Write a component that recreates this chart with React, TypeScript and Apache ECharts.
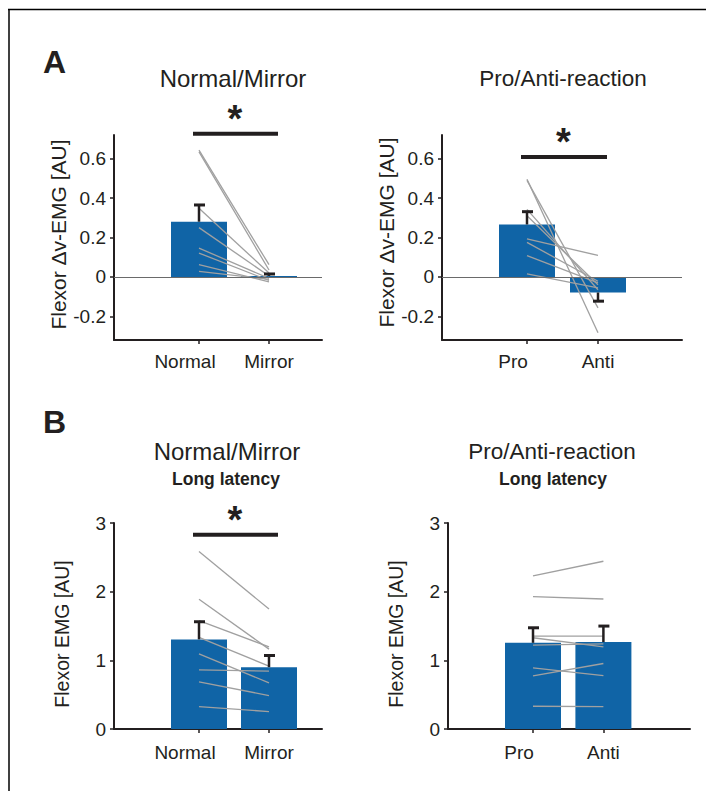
import React, { useEffect, useRef } from 'react';
import * as echarts from 'echarts';

const FONT = '"Liberation Sans", Arial, Helvetica, sans-serif';
const INK = '#231f20';
const BAR = '#1064a6';
const GREY = '#a0a0a0';

const catsNM = ['Normal', 'Mirror'];
const catsPA = ['Pro', 'Anti'];

// Panel A – Flexor Δv-EMG
const aNMMean = [0.28, 0.005];
const aNMErr = [0.085, 0.01];
const aNormal = [0.643, 0.634, 0.348, 0.25, 0.146, 0.121, 0.062, 0.028];
const aMirror = [0.062, 0.035, 0.02, 0.005, -0.007, -0.018, -0.025, -0.012];

const aPAMean = [0.266, -0.079];
const aPAErr = [0.065, 0.044];
const aPro = [0.495, 0.49, 0.343, 0.31, 0.193, 0.175, 0.108, 0.015];
const aAnti = [-0.283, -0.157, -0.065, -0.04, 0.109, -0.022, -0.03, -0.056];

// Panel B – Flexor EMG, long latency
const bNMMean = [1.305, 0.9];
const bNMErr = [0.257, 0.17];
const bNormal = [2.584, 1.889, 1.577, 1.334, 1.095, 0.861, 0.686, 0.327];
const bMirror = [1.747, 1.163, 1.197, 0.915, 0.672, 0.842, 0.487, 0.254];

const bPAMean = [1.255, 1.266];
const bPAErr = [0.219, 0.233];
const bPro = [2.229, 1.927, 1.353, 1.329, 1.222, 0.891, 0.774, 0.331];
const bAnti = [2.443, 1.893, 1.353, 1.197, 1.24, 0.778, 0.954, 0.326];

const aTicks = [-0.2, 0, 0.2, 0.4, 0.6];
const bTicks = [0, 1, 2, 3];
const aRange = [-0.32, 0.72];
const bRange = [0, 3];

type Panel = {
  cats: string[];
  mean: number[];
  err: number[];
  first: number[];
  second: number[];
  ticks: number[];
  range: number[];
  name: string;
  namePad: number[];
  nameSize: number;
  sig: number | null;
  zeroLine: boolean;
  rect: { left: number; top: number; width: number; height: number };
  step: number;
  labelMargin: number;
};

const panels: Panel[] = [
  { cats: catsNM, mean: aNMMean, err: aNMErr, first: aNormal, second: aMirror, ticks: aTicks, range: aRange,
    name: 'Flexor Δv-EMG [AU]', namePad: [0, 0, 0, 6], nameSize: 21, sig: 0.726, zeroLine: true,
    rect: { left: 114, top: 135, width: 208, height: 205 }, step: 70, labelMargin: 12 },
  { cats: catsPA, mean: aPAMean, err: aPAErr, first: aPro, second: aAnti, ticks: aTicks, range: aRange,
    name: 'Flexor Δv-EMG [AU]', namePad: [0, 0, 0, 10], nameSize: 21, sig: 0.609, zeroLine: true,
    rect: { left: 442, top: 135, width: 240, height: 205 }, step: 71, labelMargin: 12 },
  { cats: catsNM, mean: bNMMean, err: bNMErr, first: bNormal, second: bMirror, ticks: bTicks, range: bRange,
    name: 'Flexor EMG [AU]', namePad: [0, 16, 0, 0], nameSize: 19.5, sig: 2.83, zeroLine: false,
    rect: { left: 114, top: 523, width: 208, height: 206 }, step: 70, labelMargin: 14 },
  { cats: catsPA, mean: bPAMean, err: bPAErr, first: bPro, second: bAnti, ticks: bTicks, range: bRange,
    name: 'Flexor EMG [AU]', namePad: [0, 16, 0, 0], nameSize: 19.5, sig: null, zeroLine: false,
    rect: { left: 448, top: 523, width: 242, height: 206 }, step: 70.4, labelMargin: 14 },
];

const fmtTick = (v: number) => (Math.abs(v) < 1e-9 ? '0' : Number.isInteger(v) ? String(v) : v.toFixed(1));

export default function App() {
  const ref = useRef<HTMLDivElement>(null);

  useEffect(() => {
    if (!ref.current) return;
    const chart = echarts.init(ref.current, null, { renderer: 'svg' });

    const grid: any[] = [];
    const xAxis: any[] = [];
    const yAxis: any[] = [];
    const series: any[] = [];

    panels.forEach((p, i) => {
      grid.push({ ...p.rect, containLabel: false });
      const xMin = 1 - 85 / p.step;
      const xMax = xMin + p.rect.width / p.step;
      xAxis.push({
        gridIndex: i, type: 'value', min: xMin, max: xMax,
        axisLine: { show: true, onZero: false, lineStyle: { color: INK, width: 2 } },
        axisTick: { show: true, customValues: [1, 2], length: 4, lineStyle: { color: INK, width: 1.5 } },
        axisLabel: {
          customValues: [1, 2],
          formatter: (v: number) => {
            const j = Math.round(v) - 1;
            const t = p.cats[j] ?? '';
            return j === 0 ? `{first|${t}}` : `{rest|${t}}`;
          },
          rich: {
            first: { padding: [0, 28, 0, 0], fontSize: 19, fontFamily: FONT, color: INK },
            rest: { fontSize: 19, fontFamily: FONT, color: INK },
          },
          margin: p.labelMargin, color: INK, fontSize: 19, fontFamily: FONT,
        },
        splitLine: { show: false },
      });
      yAxis.push({
        gridIndex: i, type: 'value', min: p.range[0], max: p.range[1],
        axisLine: { show: true, onZero: false, lineStyle: { color: INK, width: 2 } },
        axisTick: { show: true, customValues: p.ticks, length: 4, lineStyle: { color: INK, width: 1.5 } },
        axisLabel: { customValues: p.ticks, formatter: fmtTick, margin: 8, color: INK, fontSize: 19, fontFamily: FONT },
        splitLine: { show: false },
        name: p.name, nameLocation: 'middle', nameGap: 42,
        nameTextStyle: { color: INK, fontSize: p.nameSize, fontFamily: FONT, padding: p.namePad },
      });

      series.push({
        type: 'bar', xAxisIndex: i, yAxisIndex: i, barWidth: 56, silent: true,
        itemStyle: { color: BAR },
        data: p.mean.map((m, j) => [j + 1, m]),
        markLine: p.zeroLine
          ? { silent: true, symbol: 'none', label: { show: false },
              lineStyle: { color: '#6a6a6a', width: 1, type: 'solid' }, data: [{ yAxis: 0 }] }
          : undefined,
        z: 2,
      });

      p.first.forEach((v, k) => {
        series.push({
          type: 'line', xAxisIndex: i, yAxisIndex: i, symbol: 'none', silent: true,
          lineStyle: { color: GREY, width: 1.3 },
          data: [[1, v], [2, p.second[k]]], z: 3,
        });
      });

      series.push({
        type: 'custom', xAxisIndex: i, yAxisIndex: i, silent: true, z: 4,
        data: p.mean.map((m, j) => [j + 1, m, p.err[j]]),
        encode: { x: 0, y: 1 },
        renderItem: (params: any, api: any) => {
          const x = api.value(0), m = api.value(1), e = api.value(2);
          const s = m >= 0 ? 1 : -1;
          const p0 = api.coord([x, m]);
          const p1 = api.coord([x, m + s * e]);
          return {
            type: 'group',
            children: [
              { type: 'line', shape: { x1: p0[0], y1: p0[1], x2: p1[0], y2: p1[1] }, style: { stroke: INK, lineWidth: 2.5 } },
              { type: 'line', shape: { x1: p1[0] - 5, y1: p1[1], x2: p1[0] + 6, y2: p1[1] }, style: { stroke: INK, lineWidth: 3 } },
            ],
          };
        },
      });

      if (p.sig !== null) {
        series.push({
          type: 'custom', xAxisIndex: i, yAxisIndex: i, silent: true, z: 5, clip: false,
          data: [[1, 2, p.sig]],
          encode: { x: [0, 1], y: 2 },
          renderItem: (params: any, api: any) => {
            const a = api.coord([api.value(0), api.value(2)]);
            const b = api.coord([api.value(1), api.value(2)]);
            const cx = (a[0] + b[0]) / 2 + 1;
            return {
              type: 'group',
              children: [
                { type: 'line', shape: { x1: a[0] - 6, y1: a[1], x2: b[0] + 9, y2: b[1] }, style: { stroke: INK, lineWidth: 4 } },
                { type: 'text', x: cx, y: a[1] - 15,
                  style: { text: '*', fill: INK, font: `bold 38px ${FONT}`, align: 'center', verticalAlign: 'middle' } },
              ],
            };
          },
        });
      }
    });

    const txt = (x: number, y: number, text: string, font: string, align = 'center') => ({
      type: 'text', x, y, silent: true,
      style: { text, fill: INK, font, textAlign: align, textVerticalAlign: 'middle' },
    });

    const graphic: any[] = [
      { type: 'line', shape: { x1: 8, y1: 9.5, x2: 706, y2: 9.5 }, style: { stroke: '#000', lineWidth: 1.5 } },
      { type: 'line', shape: { x1: 9, y1: 9, x2: 9, y2: 791 }, style: { stroke: '#000', lineWidth: 1.5 } },
      txt(43, 62, 'A', `bold 32px ${FONT}`, 'left'),
      txt(43, 422, 'B', `bold 32px ${FONT}`, 'left'),
      txt(233, 78, 'Normal/Mirror', `24px ${FONT}`),
      txt(563, 78, 'Pro/Anti-reaction', `22.5px ${FONT}`),
      txt(227, 451, 'Normal/Mirror', `24px ${FONT}`),
      txt(552, 451, 'Pro/Anti-reaction', `22.5px ${FONT}`),
      txt(226, 479, 'Long latency', `bold 17.5px ${FONT}`),
      txt(553, 479, 'Long latency', `bold 17.5px ${FONT}`),
    ];

    chart.setOption({
      animation: false,
      backgroundColor: '#ffffff',
      grid, xAxis, yAxis, series, graphic,
    });
    return () => chart.dispose();
  }, []);

  return (
    <div
      ref={ref}
      style={{ position: 'absolute', left: 0, top: 0, width: 706, height: 791, background: '#fff' }}
    />
  );
}
